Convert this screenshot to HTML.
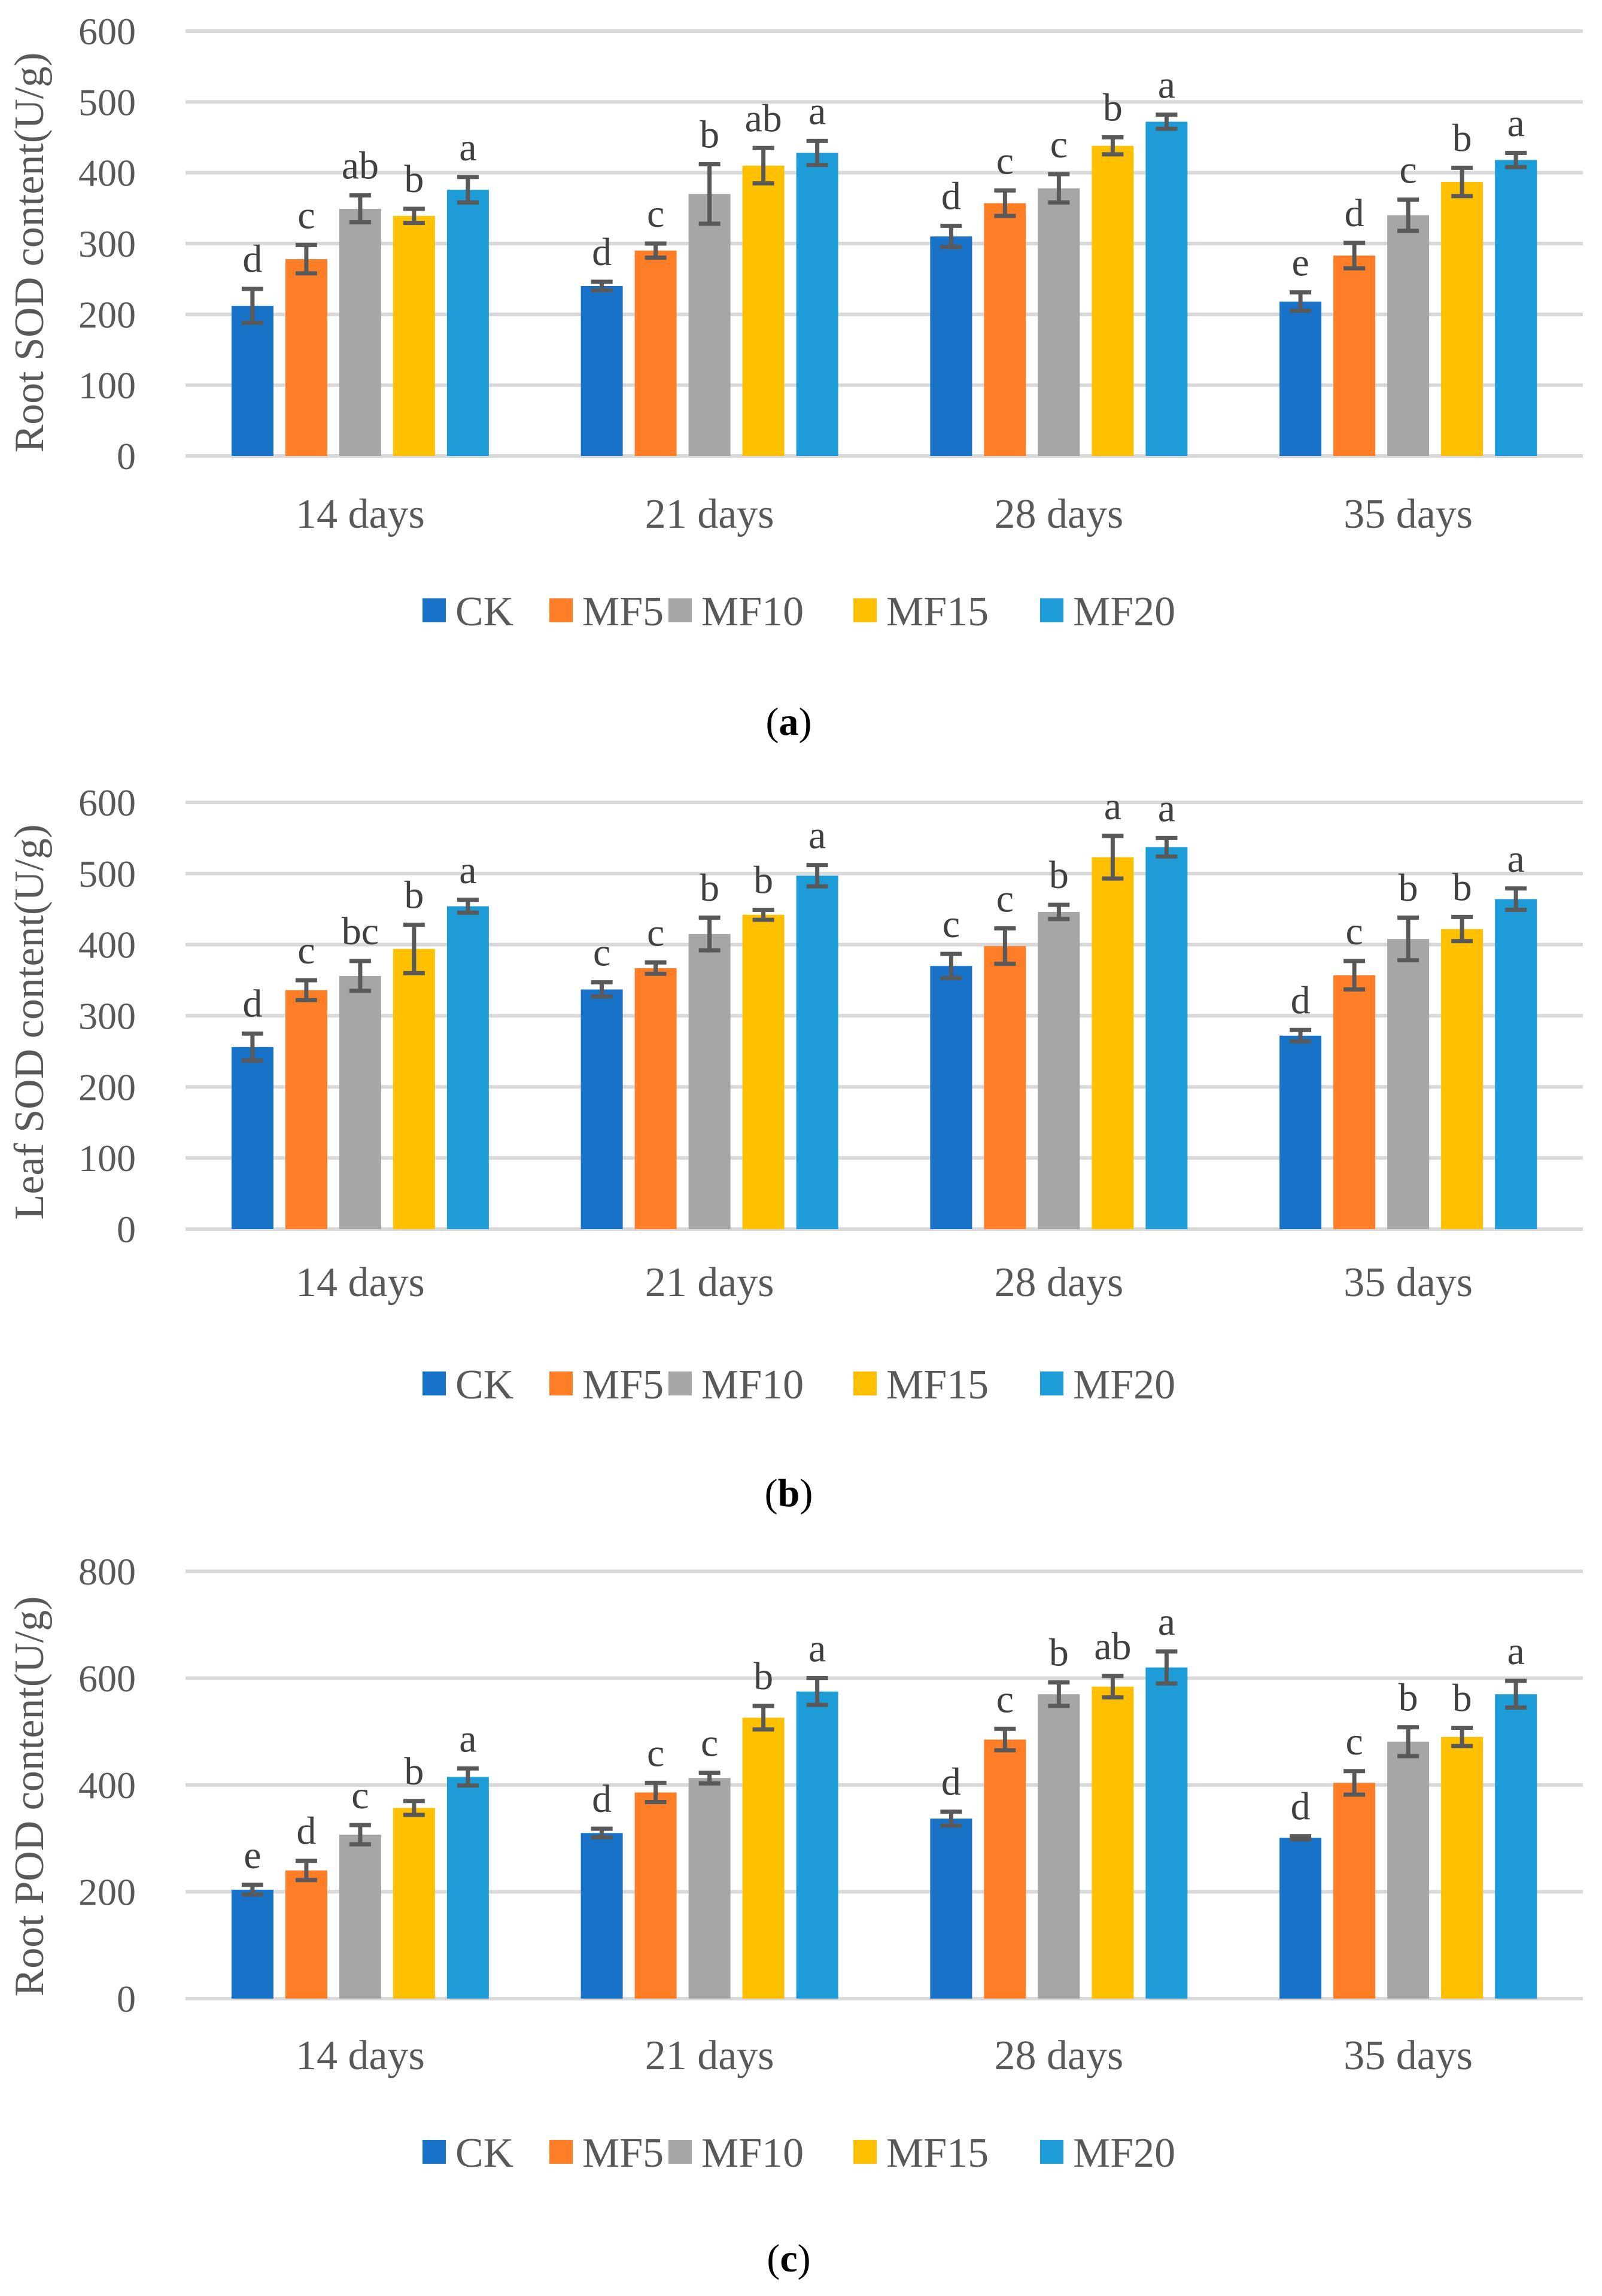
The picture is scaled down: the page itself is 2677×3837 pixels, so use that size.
<!DOCTYPE html>
<html><head><meta charset="utf-8"><style>
html,body{margin:0;padding:0;background:#fff;}
svg{display:block;}
text{font-family:"Liberation Serif",serif;}
</style></head>
<body>
<svg id="fig" width="2677" height="3837" viewBox="0 0 2677 3837" xmlns="http://www.w3.org/2000/svg"></svg>
<script>
const categories = ["14 days","21 days","28 days","35 days"];
const seriesNames = ["CK","MF5","MF10","MF15","MF20"];
const seriesColors = ["#1872C8","#FE7D27","#A6A6A6","#FFC000","#1E9CD8"];

// Panel (a) Root SOD
const rootSodValues = [[212,240,310,218],[278,290,357,283],[349,370,378,340],[339,410,438,387],[376,428,472,418]];
const rootSodErrors = [[24,6,15,13],[20,10,18,18],[19,42,20,22],[10,25,12,20],[18,17,10,10]];
const rootSodLetters = [["d","d","d","e"],["c","c","c","d"],["ab","b","c","c"],["b","ab","b","b"],["a","a","a","a"]];
const rootSodTicks = [0,100,200,300,400,500,600];

// Panel (b) Leaf SOD
const leafSodValues = [[256,337,370,272],[336,367,398,357],[356,415,446,408],[394,442,523,422],[454,497,537,464]];
const leafSodErrors = [[19,10,17,8],[14,8,25,20],[21,23,10,30],[34,7,30,17],[9,15,13,15]];
const leafSodLetters = [["d","c","c","d"],["c","c","c","c"],["bc","b","b","b"],["b","b","a","b"],["a","a","a","a"]];
const leafSodTicks = [0,100,200,300,400,500,600];

// Panel (c) Root POD
const rootPodValues = [[204,310,337,301],[240,386,485,404],[307,413,570,481],[357,526,584,490],[415,575,620,570]];
const rootPodErrors = [[9,8,13,3],[18,18,20,22],[18,10,22,27],[13,22,20,17],[16,25,30,25]];
const rootPodLetters = [["e","d","d","d"],["d","c","c","c"],["c","c","b","b"],["b","b","ab","b"],["a","a","a","a"]];
const rootPodTicks = [0,200,400,600,800];

const NS = "http://www.w3.org/2000/svg";
const svg = document.getElementById("fig");
function mk(tag, attrs, parent){
  const e = document.createElementNS(NS, tag);
  for (const k in attrs) e.setAttribute(k, attrs[k]);
  (parent||svg).appendChild(e);
  return e;
}

const plotL = 310, plotR = 2645;
function xBand(i){ const bw=(plotR-plotL)/categories.length; return plotL + bw*(i+0.5); }
function xBar(i, s){ return xBand(i) + (s-2)*90; }

function drawPanel(cfg){
  const g = mk("g", {});
  
  
  const maxV = cfg.ticks[cfg.ticks.length-1];
  const yS = v => cfg.y0 - (cfg.y0 - cfg.yTop) * v / maxV;
  cfg.ticks.forEach(t => {
    const gl = mk("line", {x1:plotL, x2:plotR, y1:yS(t), y2:yS(t), stroke:"#D9D9D9", "stroke-width":6}, g);
    
    
    const tl = mk("text", {x:227, y:yS(t)+22, "text-anchor":"end", "font-size":64, fill:"#595959"}, g);
    tl.textContent = t;
    
    
  });
  const yt = mk("text", {x:0, y:0, "text-anchor":"middle", "font-size":70, fill:"#595959", transform:`translate(72,${cfg.titleY}) rotate(-90)`}, g);
  yt.textContent = cfg.title;
  
  
  cfg.values.forEach((arr, s) => {
    arr.forEach((v, i) => {
      const cx = xBar(i, s);
      const top = yS(v);
      const r = mk("rect", {x:cx-35, y:top, width:70, height:cfg.y0-top, fill:seriesColors[s]}, g);
      
      
      const e = cfg.errors[s][i];
      const eT = yS(v+e), eB = yS(v-e);
      const eb = mk("path", {d:`M${cx},${eT}V${eB}M${cx-18},${eT}H${cx+18}M${cx-18},${eB}H${cx+18}`, stroke:"#595959", "stroke-width":7, fill:"none"}, g);
      
      
      const lt = mk("text", {x:cx, y:eT-28, "text-anchor":"middle", "font-size":66, fill:"#404040"}, g);
      lt.textContent = cfg.letters[s][i];
      
      
    });
  });
  categories.forEach((c, i) => {
    const t = mk("text", {x:xBand(i), y:cfg.xLabY, "text-anchor":"middle", "font-size":70, fill:"#595959"}, g);
    t.textContent = c;
    
    
  });
  const legX = [706, 918, 1117, 1426, 1738];
  seriesNames.forEach((n, s) => {
    const sq = mk("rect", {x:legX[s], y:cfg.legY-20, width:39, height:40, fill:seriesColors[s]}, g);
    
    
    const t = mk("text", {x:legX[s]+55, y:cfg.legY+25, "font-size":70, fill:"#595959"}, g);
    t.textContent = n;
    
    
  });
  const cap = mk("text", {x:1318, y:cfg.capY+22, "text-anchor":"middle", "font-size":66, fill:"#000"}, g);
  cap.innerHTML = '(<tspan font-weight="bold">' + cfg.cap + '</tspan>)';
  
  
}

drawPanel({id:"root-sod", y0:762, yTop:52, ticks:rootSodTicks, values:rootSodValues, errors:rootSodErrors, letters:rootSodLetters, title:"Root SOD content(U/g)", titleY:422, xLabY:882, legY:1020, capY:1206, cap:"a"});
drawPanel({id:"leaf-sod", y0:2054, yTop:1341, ticks:leafSodTicks, values:leafSodValues, errors:leafSodErrors, letters:leafSodLetters, title:"Leaf SOD content(U/g)", titleY:1708, xLabY:2166, legY:2312, capY:2495, cap:"b"});
drawPanel({id:"root-pod", y0:3340, yTop:2626, ticks:rootPodTicks, values:rootPodValues, errors:rootPodErrors, letters:rootPodLetters, title:"Root POD content(U/g)", titleY:3002, xLabY:3458, legY:3596, capY:3774, cap:"c"});
</script>
</body></html>
